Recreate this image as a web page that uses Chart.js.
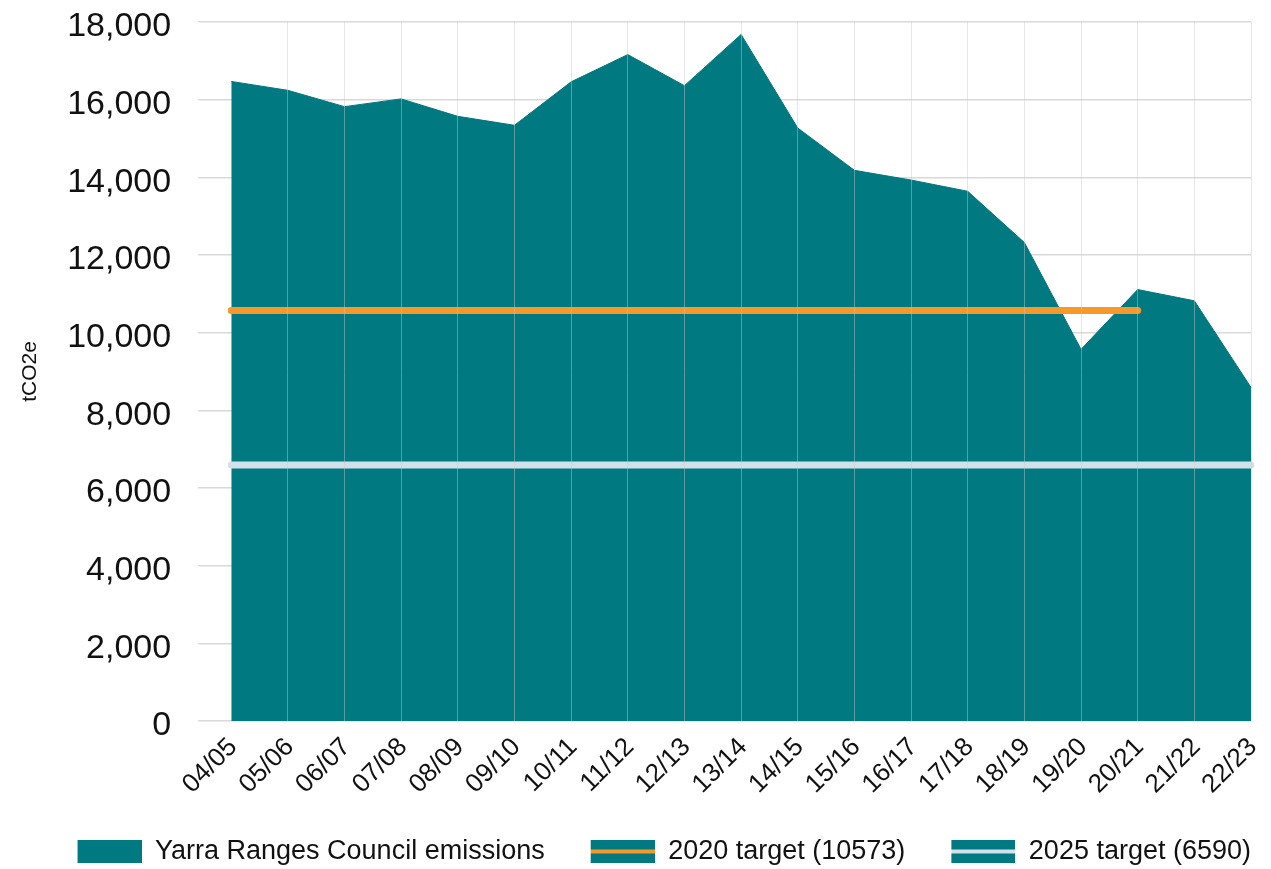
<!DOCTYPE html>
<html>
<head>
<meta charset="utf-8">
<script src="https://cdn.jsdelivr.net/npm/chart.js@4.4.1/dist/chart.umd.min.js"></script>
<style>
  html, body { margin: 0; padding: 0; background: #ffffff; }
  #wrap { width: 1271px; height: 869px; }
</style>
</head>
<body>
<div id="wrap"><canvas id="c" width="1271" height="869"></canvas></div>
<script>
const categories = ['04/05','05/06','06/07','07/08','08/09','09/10','10/11','11/12','12/13','13/14','14/15','15/16','16/17','17/18','18/19','19/20','20/21','21/22','22/23'];
const emissions = [16470, 16240, 15820, 16020, 15570, 15340, 16460, 17160, 16360, 17680, 15270, 14180, 13930, 13640, 12320, 9570, 11110, 10820, 8590];
const target2020 = [10573, 10573, 10573, 10573, 10573, 10573, 10573, 10573, 10573, 10573, 10573, 10573, 10573, 10573, 10573, 10573, 10573, null, null];
const target2025 = [6590, 6590, 6590, 6590, 6590, 6590, 6590, 6590, 6590, 6590, 6590, 6590, 6590, 6590, 6590, 6590, 6590, 6590, 6590];
const seriesLabels = ['Yarra Ranges Council emissions', '2020 target (10573)', '2025 target (6590)'];
const yTicks = { min: 0, max: 18000, step: 2000 };

const TEAL = '#007a80';
const ORANGE = '#f7982a';
const LIGHT = '#d3e2ea';
const FONT = "'Liberation Sans', Arial, Helvetica, sans-serif";

const RECT_W = 64, RECT_H = 23, GAP = 46;
const BOX_W = RECT_W + GAP;
function legendSwatch(lineColor) {
  const cv = document.createElement('canvas');
  cv.width = BOX_W; cv.height = RECT_H;
  const g = cv.getContext('2d');
  g.fillStyle = TEAL;
  g.fillRect(GAP, 0, RECT_W, RECT_H);
  if (lineColor) {
    g.fillStyle = lineColor;
    g.fillRect(GAP, 9.5, RECT_W, 4);
  }
  return cv;
}
const swatches = [legendSwatch(null), legendSwatch(ORANGE), legendSwatch(LIGHT)];

new Chart(document.getElementById('c'), {
  type: 'line',
  data: {
    labels: categories,
    datasets: [
      {
        label: seriesLabels[0],
        data: emissions,
        fill: 'origin',
        backgroundColor: TEAL,
        borderColor: TEAL,
        borderWidth: 1,
        pointRadius: 0,
        tension: 0,
        order: 3
      },
      {
        label: seriesLabels[1],
        data: target2020,
        fill: false,
        borderColor: ORANGE,
        backgroundColor: TEAL,
        borderWidth: 7,
        borderCapStyle: 'round',
        pointRadius: 0,
        spanGaps: false,
        order: 1
      },
      {
        label: seriesLabels[2],
        data: target2025,
        fill: false,
        borderColor: LIGHT,
        backgroundColor: TEAL,
        borderWidth: 7,
        borderCapStyle: 'round',
        pointRadius: 0,
        order: 2
      }
    ]
  },
  options: {
    responsive: false,
    animation: false,
    devicePixelRatio: 1,
    layout: { padding: { left: 0, right: 20, top: 0, bottom: -6 } },
    plugins: {
      tooltip: { enabled: false },
      legend: {
        position: 'bottom',
        align: 'end',
        labels: {
          usePointStyle: true,
          pointStyleWidth: BOX_W,
          padding: 0,
          color: '#111',
          font: { family: FONT, size: 27 },
          sort: (a, b) => a.datasetIndex - b.datasetIndex,
          generateLabels: (chart) => {
            const items = Chart.defaults.plugins.legend.labels.generateLabels(chart);
            items.forEach(it => { it.pointStyle = swatches[it.datasetIndex]; });
            return items;
          }
        }
      }
    },
    scales: {
      x: {
        border: { display: false },
        grid: {
          z: 1,
          drawTicks: false,
          lineWidth: 1,
          color: (ctx) => ctx.index === 0 ? 'rgba(0,0,0,0)' : 'rgba(200,200,200,0.45)'
        },
        ticks: {
          autoSkip: false,
          maxRotation: 45,
          minRotation: 45,
          padding: 11,
          labelOffset: 2,
          color: '#111',
          font: { family: FONT, size: 26 }
        },
        afterFit: (scale) => {
          scale.height += 27;
          scale.paddingLeft = 0;
          scale.paddingRight = 20;
        }
      },
      y: {
        min: yTicks.min,
        max: yTicks.max,
        border: { display: false },
        grid: {
          color: '#d9d9d9',
          lineWidth: 1.5,
          drawTicks: true,
          tickLength: 60,
          tickBorderDash: [0, 27, 33, 200]
        },
        ticks: {
          stepSize: yTicks.step,
          padding: 0,
          labelOffset: 5,
          color: '#111',
          font: { family: FONT, size: 34 }
        },
        title: {
          display: true,
          text: 'tCO2e',
          color: '#111',
          font: { family: FONT, size: 21 },
          padding: { top: 18, bottom: 24 }
        },
        afterFit: (scale) => {
          scale.paddingTop = 22;
        }
      }
    }
  }
});
</script>
</body>
</html>
